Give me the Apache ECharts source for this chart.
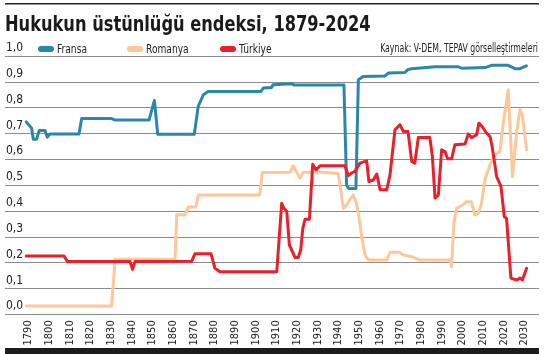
<!DOCTYPE html>
<html>
<head>
<meta charset="utf-8">
<script src="https://cdn.jsdelivr.net/npm/echarts@6/dist/echarts.min.js"></script>
<style>
  html, body { margin: 0; padding: 0; background: #fff; }
  #chart { width: 544px; height: 354px; }
</style>
</head>
<body>
<div id="chart"></div>
<script>
const titleText = 'Hukukun üstünlüğü endeksi, 1879-2024';
const sourceText = 'Kaynak: V-DEM, TEPAV görselleştirmeleri';
const seriesNames = ['Fransa', 'Romanya', 'Türkiye'];
const yearTicks = [1790, 1800, 1810, 1820, 1830, 1840, 1850, 1860, 1870, 1880, 1890, 1900,
  1910, 1920, 1930, 1940, 1950, 1960, 1970, 1980, 1990, 2000, 2010, 2020, 2030];

// [yil, deger]
const fransa = [[1789, 0.745], [1789.5, 0.743], [1791.6, 0.72], [1792.4, 0.678], [1794, 0.678],
  [1795.3, 0.712], [1798, 0.712], [1799.2, 0.686], [1800.5, 0.698], [1814.5, 0.698],
  [1815.8, 0.758], [1830.3, 0.758], [1832, 0.752], [1848.4, 0.752], [1851, 0.828],
  [1852.6, 0.697], [1870.3, 0.697], [1872.2, 0.805], [1874.7, 0.85], [1877, 0.863],
  [1902.6, 0.863], [1903.7, 0.876], [1907.7, 0.878], [1908.4, 0.889], [1917.4, 0.893],
  [1918.5, 0.888], [1942.7, 0.888], [1944, 0.5], [1945, 0.487], [1948.5, 0.487],
  [1949.7, 0.908], [1952, 0.921], [1962.6, 0.923], [1964.2, 0.934], [1972.2, 0.936],
  [1973.6, 0.947], [1975.5, 0.951], [1986.8, 0.958], [1998, 0.958], [1999.7, 0.953],
  [2011, 0.955], [2014.2, 0.964], [2022.2, 0.964], [2025.5, 0.951], [2027.9, 0.951],
  [2031, 0.962]];

const romanya = [[1789, 0.032], [1830.3, 0.032], [1832, 0.213], [1861, 0.213], [1861.8, 0.385],
  [1865.8, 0.385], [1867.4, 0.415], [1871, 0.415], [1872.2, 0.462], [1902, 0.462],
  [1903.2, 0.549], [1916.6, 0.55], [1918.2, 0.575], [1921.4, 0.527], [1923, 0.55],
  [1932.7, 0.55], [1940, 0.545], [1942.4, 0.41], [1944, 0.424], [1947.2, 0.462],
  [1948.5, 0.436], [1949.7, 0.39], [1951.3, 0.3], [1952.9, 0.23], [1954.5, 0.21],
  [1963.4, 0.21], [1965, 0.24], [1969.8, 0.24], [1971.4, 0.23], [1975.5, 0.223],
  [1979.5, 0.21], [1994, 0.21], [1994.8, 0.185], [1995.9, 0.353], [1997.2, 0.41],
  [2000.4, 0.424], [2002, 0.436], [2004.4, 0.436], [2006, 0.385], [2007.7, 0.39],
  [2009.3, 0.43], [2010.9, 0.52], [2013.4, 0.579], [2015.8, 0.617], [2018.2, 0.63],
  [2019.8, 0.74], [2022.2, 0.869], [2024.3, 0.533], [2026.3, 0.708], [2027.9, 0.792],
  [2029, 0.772], [2031.1, 0.637]];

const turkiye = [[1789, 0.226], [1807.3, 0.226], [1808.9, 0.204], [1839.2, 0.204], [1840.4, 0.174],
  [1841.6, 0.204], [1869, 0.205], [1870.6, 0.234], [1878.4, 0.234], [1880.3, 0.178],
  [1882.7, 0.165], [1910.2, 0.165], [1912.6, 0.43], [1913.7, 0.41], [1915, 0.4],
  [1916.3, 0.269], [1919, 0.22], [1920.6, 0.22], [1921.8, 0.249], [1922.8, 0.333],
  [1923.9, 0.368], [1926, 0.368], [1927.6, 0.581], [1929.2, 0.559], [1931.1, 0.575],
  [1943.2, 0.575], [1944.8, 0.537], [1946.4, 0.547], [1948, 0.553], [1950.4, 0.585],
  [1953.7, 0.594], [1954.8, 0.514], [1956.9, 0.52], [1958.6, 0.543], [1960.2, 0.482],
  [1963.4, 0.482], [1965, 0.54], [1967.4, 0.714], [1969.8, 0.734], [1971.4, 0.708],
  [1973.7, 0.708], [1975.5, 0.592], [1977, 0.585], [1978.7, 0.684], [1984.3, 0.684],
  [1985.5, 0.611], [1986.8, 0.45], [1988.4, 0.462], [1990, 0.637], [1991.6, 0.63],
  [1992.9, 0.602], [1994.8, 0.602], [1996.4, 0.656], [2001.3, 0.659], [2002.9, 0.698],
  [2004.5, 0.684], [2006.9, 0.695], [2008, 0.74], [2009.6, 0.727], [2011.7, 0.702],
  [2013.4, 0.688], [2014.5, 0.646], [2015.4, 0.646], [2016.6, 0.533], [2018.7, 0.495],
  [2020.3, 0.378], [2021.4, 0.372], [2023.5, 0.14], [2026.3, 0.133], [2027.9, 0.14],
  [2029, 0.133], [2031.1, 0.178]];

const colors = ['#2b87a7', '#fdc79a', '#e8202b'];
const cond = '"DejaVu Sans Condensed", "Liberation Sans", sans-serif';

// legend drawn by hand: condensed text needs a horizontal squeeze
const legendX = [38, 127, 220];
const legendItems = [];
seriesNames.forEach((name, i) => {
  legendItems.push({
    type: 'rect', x: legendX[i], y: 46,
    shape: { width: 16, height: 6, r: 3 },
    style: { fill: colors[i] }
  });
  legendItems.push({
    type: 'text', x: legendX[i] + 19, y: 50, scaleX: 0.78,
    style: { text: name, font: '13px ' + cond, fill: '#222', verticalAlign: 'middle' }
  });
});

const lineSeries = (name, data, color) => ({
  name: name,
  type: 'line',
  data: data,
  showSymbol: false,
  symbol: 'none',
  itemStyle: { color: color },
  lineStyle: { color: color, width: 3, cap: 'round', join: 'round' }
});

const chart = echarts.init(document.getElementById('chart'));
chart.setOption({
  animation: false,
  grid: { left: 5, right: 5, top: 56, bottom: 39.7 },
  xAxis: {
    type: 'value',
    min: 1778.7,
    max: 2037.1,
    axisLine: { show: false },
    axisTick: { show: false },
    splitLine: { show: false },
    axisLabel: {
      customValues: yearTicks,
      rotate: 90,
      margin: 6,
      fontFamily: cond,
      fontSize: 11,
      color: '#222',
      formatter: v => String(v)
    }
  },
  yAxis: {
    type: 'value',
    min: 0,
    max: 1,
    interval: 0.1,
    axisLine: { show: false },
    axisTick: { show: false },
    splitLine: { lineStyle: { color: '#8c8c8c', width: 1 } },
    axisLabel: {
      inside: true,
      margin: 1,
      verticalAlign: 'bottom',
      padding: [0, 0, 2, 0],
      fontFamily: cond,
      fontSize: 12,
      color: '#222',
      formatter: v => v.toFixed(1).replace('.', ',')
    }
  },
  graphic: [
    { type: 'rect', x: 5, y: 3, shape: { width: 534, height: 1.5 }, style: { fill: '#222' } },
    { type: 'rect', x: 5, y: 348, shape: { width: 534, height: 6 }, style: { fill: '#1c1c1c' } },
    {
      type: 'text', x: 5, y: 25.5, scaleX: 0.86,
      style: { text: titleText, font: 'bold 21px ' + cond, fill: '#1a1a1a', verticalAlign: 'middle' }
    },
    {
      type: 'text', x: 538, y: 49, scaleX: 0.72,
      style: { text: sourceText, font: '12px ' + cond, fill: '#222', align: 'right', verticalAlign: 'middle' }
    }
  ].concat(legendItems),
  series: seriesNames.map((name, i) => lineSeries(name, [fransa, romanya, turkiye][i], colors[i]))
});
</script>
</body>
</html>
